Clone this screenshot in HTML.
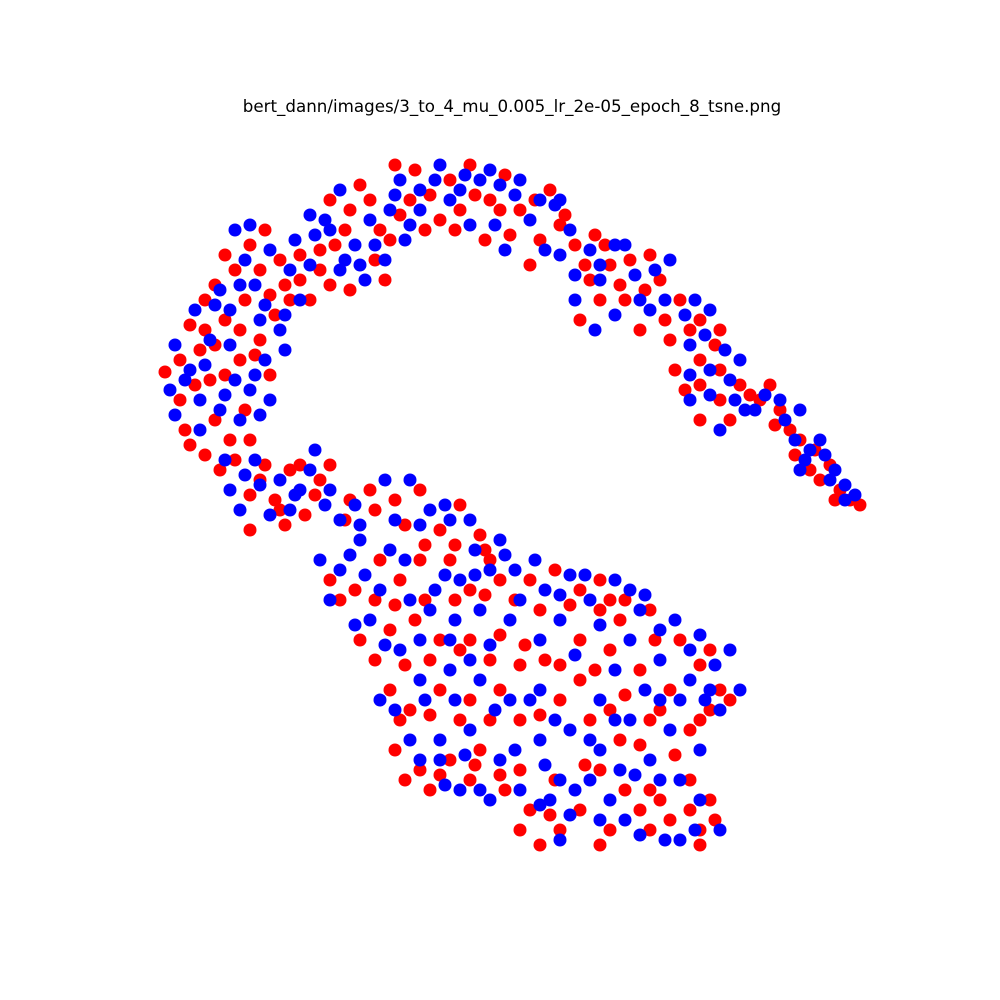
<!DOCTYPE html>
<html><head><meta charset="utf-8">
<style>
html,body{margin:0;padding:0;background:#fff;width:1000px;height:1000px;overflow:hidden}
svg{display:block}
</style></head>
<body>
<svg id="chart" width="1000" height="1000" viewBox="0 0 1000 1000" xmlns="http://www.w3.org/2000/svg">
<rect width="1000" height="1000" fill="#fff"/>
<text x="512" y="112" text-anchor="middle" font-family="DejaVu Sans, sans-serif" font-size="16.7" fill="#000">bert_dann/images/3_to_4_mu_0.005_lr_2e-05_epoch_8_tsne.png</text>
<g id="red-layer"></g>
<g id="blue-layer"></g>
</svg>
<script>
const redPoints = [[165,372],[190,325],[205,300],[215,285],[250,245],[265,230],[235,270],[225,320],[245,300],[270,295],[200,350],[180,400],[210,380],[240,360],[260,340],[185,430],[215,420],[245,410],[270,375],[230,440],[290,300],[280,260],[205,455],
[300,280],[320,250],[330,200],[345,230],[360,185],[375,260],[390,240],[350,290],[310,300],[385,280],[400,215],[330,285],
[395,165],[415,170],[430,195],[450,180],[470,165],[490,200],[505,175],[520,210],[540,240],[485,240],[460,210],[550,190],[530,265],[440,220],[510,235],
[565,215],[575,245],[595,235],[610,265],[630,260],[650,255],[580,320],[600,300],[625,300],[660,280],[640,330],[590,280],[680,300],[700,320],[720,330],[670,340],[700,360],
[675,370],[700,385],[720,400],[740,385],[760,400],[780,410],[770,385],[790,430],[800,440],[815,450],[830,465],[810,470],[840,490],[850,500],[700,420],[730,420],[860,505],
[220,470],[235,460],[250,495],[265,465],[275,500],[290,470],[305,515],[320,480],[250,530],[330,465],[285,525],
[345,520],[370,490],[395,500],[420,490],[440,530],[460,505],[480,535],[355,590],[380,560],[400,580],[420,560],[450,560],[470,590],[500,580],[530,580],[555,570],[580,590],[600,580],[620,620],[650,610],[680,640],[710,650],[720,690],[700,720],[360,640],[390,630],[415,620],[440,640],[470,640],[500,635],[525,645],[545,660],[580,640],[610,650],[640,670],[670,690],[390,690],[410,710],[440,690],[470,700],[500,690],[520,720],[560,700],[590,720],[620,740],[650,720],[690,730],[395,750],[420,770],[450,760],[480,750],[505,790],[530,810],[540,845],[560,830],[580,810],[610,830],[640,810],[670,820],[700,830],[710,800],[690,780],[430,790],[470,780],[520,770],[600,770],[650,790],[460,720],[580,680],[340,600],[330,580],[490,560],[610,600],
[180,360],[195,385],[215,345],[225,375],[240,330],[255,355],[275,315],[260,270],[225,255],[205,330],[190,445],[250,440],[285,285],[300,255],[320,270],[335,245],[350,210],[370,200],[380,230],[410,200],[425,230],[455,230],[475,195],[500,210],[535,200],[560,225],[585,265],[605,245],[620,285],[645,290],[665,320],[690,330],[715,345],[685,390],[720,370],[750,395],[775,425],[795,455],[820,480],[835,500],[260,480],[280,510],[315,495],[300,465],[350,500],[375,510],[405,525],[425,545],[455,545],[485,550],[375,600],[395,605],[425,600],[455,600],[485,595],[515,600],[540,610],[570,605],[600,610],[625,600],[655,640],[700,665],[730,700],[375,660],[405,665],[430,660],[460,650],[490,660],[520,665],[560,665],[595,670],[625,695],[660,710],[710,710],[400,720],[430,715],[490,720],[540,715],[610,710],[640,745],[675,755],[405,780],[440,775],[475,765],[500,775],[555,780],[585,765],[625,790],[660,800],[690,810],[550,815],[520,830],[600,845],[650,830],[700,845],[715,820]];
const bluePoints = [[175,345],[195,310],[220,290],[245,260],[270,250],[255,285],[230,310],[260,320],[285,350],[210,340],[190,370],[230,345],[265,360],[200,400],[225,395],[250,390],[175,415],[200,430],[260,415],[280,330],[290,270],[235,230],[240,420],
[310,265],[325,220],[340,190],[355,245],[370,220],[385,260],[395,195],[340,270],[315,235],[365,280],[405,240],[300,300],
[400,180],[420,210],[440,165],[460,190],[480,180],[500,185],[515,195],[530,220],[545,250],[495,225],[470,225],[555,205],[420,190],[505,250],[450,200],
[570,230],[590,250],[615,245],[635,275],[655,270],[575,300],[595,330],[615,315],[640,300],[665,300],[600,280],[685,315],[710,310],[725,350],[690,345],[710,370],[560,200],
[690,375],[710,395],[730,380],[745,410],[765,395],[785,420],[800,410],[805,460],[820,440],[835,470],[845,485],[855,495],[720,430],[740,360],[690,400],[825,455],[800,470],
[230,490],[245,475],[260,485],[280,480],[295,495],[310,470],[325,505],[240,510],[270,515],[300,490],[315,450],
[355,505],[385,480],[410,480],[430,510],[450,520],[470,520],[320,560],[340,570],[365,575],[390,550],[410,600],[435,590],[460,580],[490,570],[515,570],[545,590],[570,575],[590,600],[630,590],[660,630],[690,650],[715,665],[740,690],[705,700],[370,620],[400,650],[430,610],[455,620],[480,610],[510,620],[560,620],[600,625],[630,640],[660,660],[690,680],[720,710],[380,700],[420,680],[450,670],[480,680],[510,700],[540,690],[570,730],[600,700],[630,720],[660,700],[410,740],[440,740],[470,730],[500,760],[520,790],[550,800],[575,790],[600,750],[620,770],[650,760],[680,780],[700,800],[680,840],[640,835],[570,815],[460,790],[490,800],[420,760],[540,740],[610,800],[360,540],[330,600],[500,540],[520,600],[640,610],[470,660],
[170,390],[185,380],[205,365],[220,410],[235,380],[255,375],[270,400],[240,285],[265,305],[250,225],[215,305],[285,315],[295,240],[310,215],[330,230],[345,260],[360,265],[375,245],[390,210],[410,225],[435,180],[465,175],[490,170],[520,180],[540,200],[560,255],[575,275],[600,265],[625,245],[650,310],[670,260],[695,300],[705,335],[735,400],[755,410],[780,400],[795,440],[810,450],[830,480],[845,500],[225,460],[255,460],[290,510],[330,490],[340,520],[360,525],[395,520],[420,525],[445,505],[475,550],[505,555],[350,555],[380,590],[405,560],[445,575],[475,575],[535,560],[560,595],[585,575],[615,580],[645,595],[675,620],[700,635],[730,650],[355,625],[385,645],[420,640],[450,640],[490,645],[540,640],[575,655],[615,670],[645,690],[680,700],[710,690],[395,710],[425,700],[455,700],[495,710],[530,700],[555,720],[590,740],[615,720],[670,730],[700,750],[440,760],[465,755],[515,750],[545,765],[560,780],[590,780],[635,775],[660,780],[695,830],[665,840],[625,820],[480,790],[445,785],[540,805],[560,840],[600,820],[720,830]];

const xDomain = [0, 1000], yDomain = [0, 1000];
function xScale(v){ return (v - xDomain[0]) / (xDomain[1] - xDomain[0]) * 1000; }
function yScale(v){ return (v - yDomain[0]) / (yDomain[1] - yDomain[0]) * 1000; }
const NS = "http://www.w3.org/2000/svg";
function draw(points, layerId, color, name){
  const g = document.getElementById(layerId);
  points.forEach(p => {
    const c = document.createElementNS(NS, "circle");
    c.setAttribute("cx", xScale(p[0]));
    c.setAttribute("cy", yScale(p[1]));
    c.setAttribute("r", 6.5);
    c.setAttribute("fill", color);
    
    
    g.appendChild(c);
  });
}
draw(redPoints, "red-layer", "#ff0000", "red-point");
draw(bluePoints, "blue-layer", "#0000ff", "blue-point");
</script>
</body></html>
